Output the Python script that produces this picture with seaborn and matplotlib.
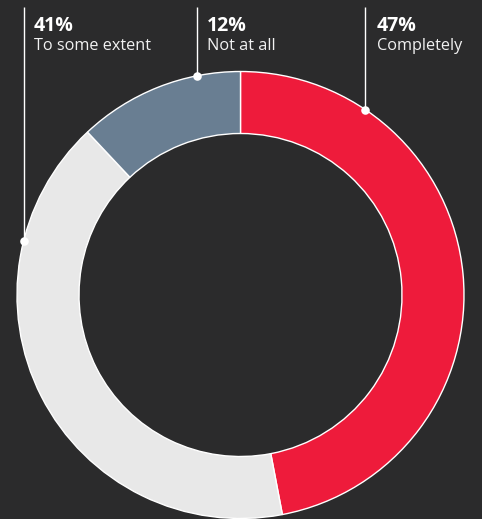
import matplotlib
matplotlib.use("Agg")
import matplotlib.pyplot as plt
import numpy as np
import seaborn as sns

# ---- data ----
categories = ["Completely", "To some extent", "Not at all"]
values = [47, 41, 12]
pct_labels = ["47%", "41%", "12%"]
colors = ["#ee1b3b", "#e8e8e8", "#697e92"]

# ---- style ----
BG = "#2b2b2c"
sns.set_theme(style="dark", rc={"axes.facecolor": BG, "figure.facecolor": BG})
plt.rcParams["font.family"] = ["Open Sans", "DejaVu Sans"]

W, H = 482, 519
fig = plt.figure(figsize=(W / 100, H / 100), dpi=100)
ax = fig.add_axes([0, 0, 1, 1])
ax.set_facecolor(BG)

cx, cy_px, R, ring = 240.5, 295.0, 223.5, 62.0
cy = H - cy_px

palette = sns.color_palette(colors)
ax.pie(values, colors=palette, startangle=90, counterclock=False,
       radius=R, center=(cx, cy),
       wedgeprops=dict(width=ring, edgecolor="white", linewidth=1.0))

# ---- annotations: (category index, dot angle in degrees, text x) ----
annots = [(1, 166.0, 34), (2, 101.3, 207), (0, 56.0, 377)]
for idx, ang, tx in annots:
    a = np.deg2rad(ang)
    dx = cx + R * np.cos(a)
    dy = cy + R * np.sin(a)
    ax.plot([dx, dx], [dy, H - 7], color="white", lw=1.0, solid_capstyle="butt", zorder=5)
    ax.scatter([dx], [dy], s=38, color="white", zorder=6, linewidths=0)
    ax.text(tx, H - 31, pct_labels[idx], color="white", fontsize=14,
            fontweight="bold", ha="left", va="baseline")
    ax.text(tx, H - 50, categories[idx], color="#f2f2f2", fontsize=11.7,
            ha="left", va="baseline")

ax.set_xlim(0, W)
ax.set_ylim(0, H)
ax.set_aspect("equal")
ax.axis("off")

fig.savefig("out.png", dpi=100, facecolor=BG)
